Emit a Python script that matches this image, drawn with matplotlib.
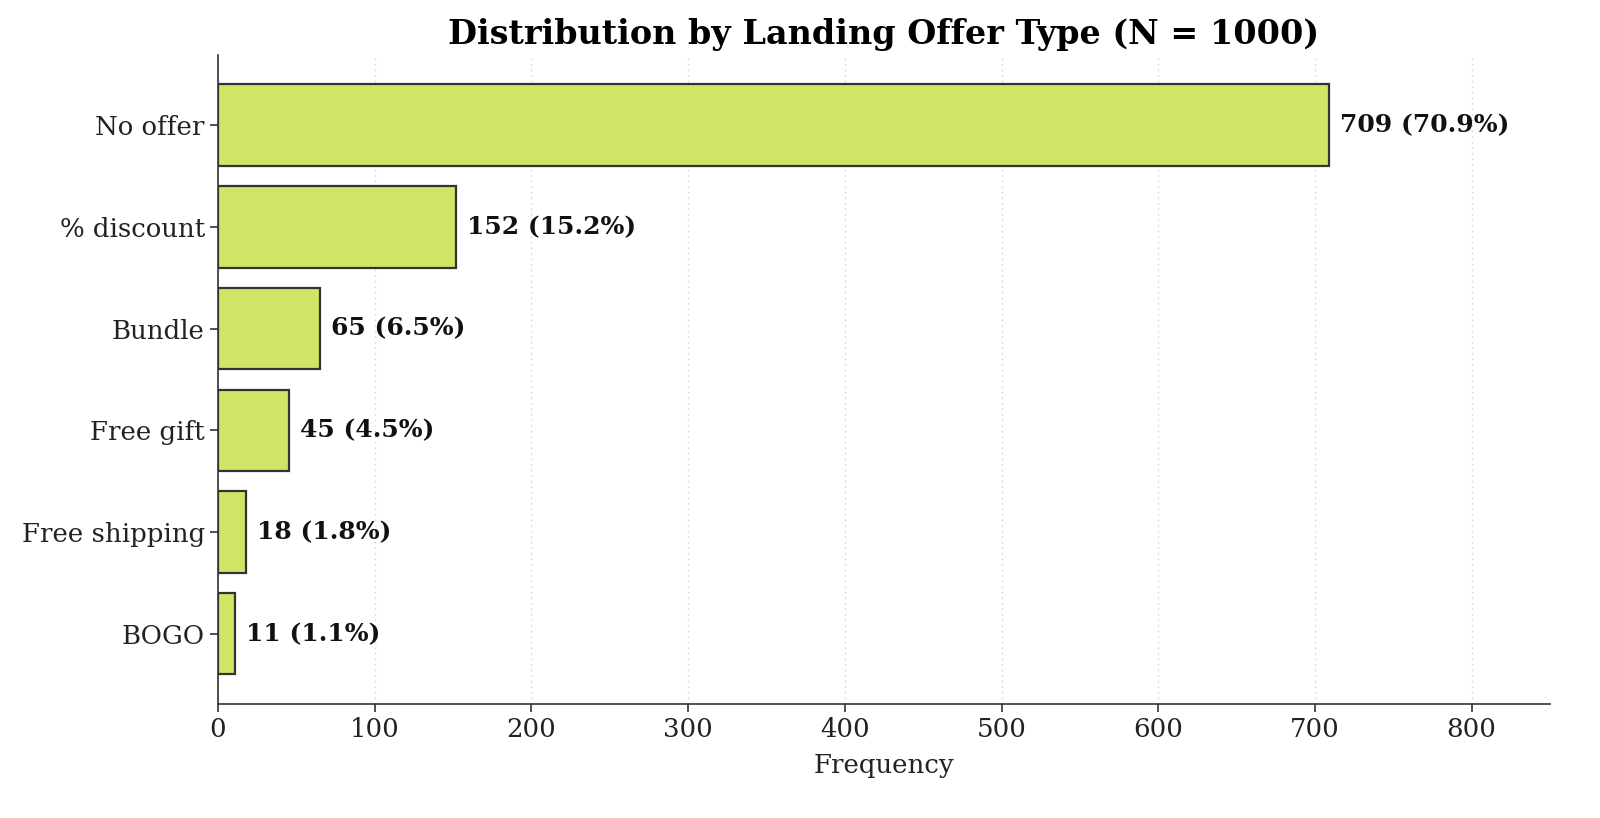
import matplotlib
matplotlib.use("Agg")
import matplotlib.pyplot as plt

categories = ["No offer", "% discount", "Bundle", "Free gift", "Free shipping", "BOGO"]
counts = [709, 152, 65, 45, 18, 11]
total = 1000

plt.rcParams['font.family'] = ['DejaVu Serif']

fig = plt.figure(figsize=(16, 8.18), dpi=100)
ax = fig.add_axes([218/1600, 1-704/818, (1550-218)/1600, (704-55)/818])

ypos = list(range(len(categories)))
ax.barh(ypos, counts, height=0.8, color='#cfe565', edgecolor='#333333', linewidth=1.6, zorder=3)
ax.invert_yaxis()
ax.set_yticks(ypos)
ax.set_yticklabels(categories, fontsize=18.7)
ax.set_xlim(0, 850)
ax.set_xticks([0, 100, 200, 300, 400, 500, 600, 700, 800])
ax.tick_params(axis='x', labelsize=18.7, length=6, width=1.2, colors='#333333', labelcolor='#222222')
ax.tick_params(axis='y', length=6, width=1.2, colors='#333333', labelcolor='#222222')
ax.xaxis.grid(True, linestyle=(0, (1, 3)), color='#d0d0d0', linewidth=1.0, zorder=0)
ax.set_axisbelow(True)
for s in ['top', 'right']:
    ax.spines[s].set_visible(False)
for s in ['left', 'bottom']:
    ax.spines[s].set_color('#333333')
    ax.spines[s].set_linewidth(1.2)

for y, c in zip(ypos, counts):
    ax.text(c + max(counts) * 0.01, y, f"{c} ({c/total*100:.1f}%)", va='center', ha='left',
            fontsize=18, fontweight='bold', color='#111111')

ax.set_xlabel("Frequency", fontsize=18.7, color='#222222', labelpad=8)
ax.set_title("Distribution by Landing Offer Type (N = 1000)", fontsize=24, fontweight='bold', pad=8)

fig.savefig("out.png", dpi=100)
